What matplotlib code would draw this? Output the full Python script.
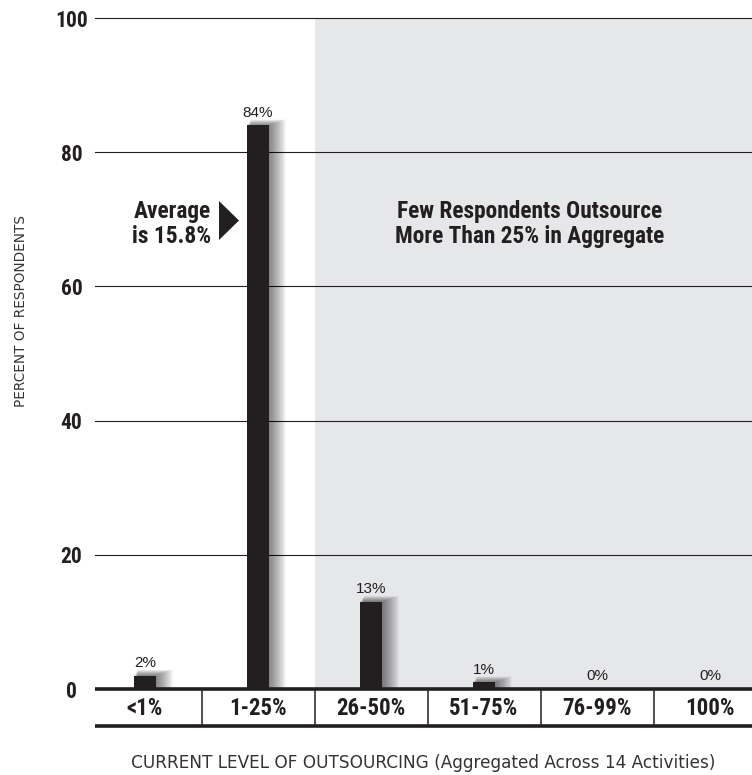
import matplotlib
matplotlib.use("Agg")
import matplotlib.pyplot as plt
from matplotlib.patches import Rectangle, Polygon
from matplotlib import font_manager

# ---- data ----
categories = ["<1%", "1-25%", "26-50%", "51-75%", "76-99%", "100%"]
percent_respondents = [2, 84, 13, 1, 0, 0]
y_ticks = [0, 20, 40, 60, 80, 100]

# ---- fonts ----
available = {f.name for f in font_manager.fontManager.ttflist}


def pick(*names):
    for n in names:
        if n in available:
            return n
    return "DejaVu Sans"


narrow = pick("Roboto Condensed", "Archivo Narrow", "Liberation Sans Narrow",
              "Sofia Sans Condensed")
regular = pick("Liberation Sans", "Arimo")

INK = "#231f20"
SHADE = "#e6e7e9"

W, H, DPI = 752, 775, 100
fig = plt.figure(figsize=(W / DPI, H / DPI), dpi=DPI)

# axes placement in pixels
left_px, right_px = 95, 752
top_px, zero_px, bottom_px = 18, 689, 727
px_per_unit = (zero_px - top_px) / 100.0
ymin = -(bottom_px - zero_px) / px_per_unit
ax = fig.add_axes([left_px / W, (H - bottom_px) / H,
                   (right_px - left_px) / W, (bottom_px - top_px) / H])

x_px_per_cat = 113.0
first_center_px = 145.0
xmin = -(first_center_px - left_px) / x_px_per_cat
xmax = xmin + (right_px - left_px) / x_px_per_cat
ax.set_xlim(xmin, xmax)
ax.set_ylim(ymin, 100)
for s in ax.spines.values():
    s.set_visible(False)
ax.set_xticks([])
ax.set_yticks(y_ticks)
ax.set_yticklabels([str(t) for t in y_ticks], family=narrow, fontweight="bold",
                   fontsize=15.5, color=INK, ha="center")
ax.tick_params(axis="y", length=0, pad=17)

# shaded region for categories above 25%
ax.add_patch(Rectangle((1.5, 0), xmax - 1.5, 100, facecolor=SHADE,
                       edgecolor="none", zorder=0))

# horizontal grid lines
for t in y_ticks[1:]:
    ax.plot([xmin, xmax], [t, t], color=INK, lw=0.8, zorder=1, clip_on=False)

# bars with a soft drop shadow to the right
bar_w = 22 / x_px_per_cat
xs = list(range(len(categories)))
for x, v in zip(xs, percent_respondents):
    if v <= 0:
        continue
    for k in range(1, 25):
        dx = k * 0.55 / x_px_per_cat
        dy = k * 0.25 / px_per_unit
        ax.add_patch(Rectangle((x - bar_w / 2 + dx * 0.3, 0), bar_w + dx, v + dy,
                               facecolor="black", edgecolor="none",
                               alpha=0.022, zorder=2))
ax.bar(xs, percent_respondents, width=bar_w, color=INK, zorder=3)

# value labels
for x, v in zip(xs, percent_respondents):
    ax.text(x, v + 1.3, f"{v}%", ha="center", va="baseline",
            family=regular, fontsize=11, color=INK, zorder=5)

# category band below the zero line
ax.add_patch(Rectangle((xmin, ymin), xmax - xmin, -ymin, facecolor="white",
                       edgecolor="none", zorder=1, clip_on=False))
ax.plot([xmin, xmax], [0, 0], color=INK, lw=2.6, zorder=6, solid_capstyle="butt",
        clip_on=False)
ax.plot([xmin, xmax], [ymin + 0.2, ymin + 0.2], color=INK, lw=2.6, zorder=6,
        solid_capstyle="butt", clip_on=False)
for i in range(len(categories) - 1):
    ax.plot([i + 0.5, i + 0.5], [ymin, 0], color=INK, lw=1.1, zorder=5)
for x, c in zip(xs, categories):
    ax.text(x, ymin / 2 - 0.1, c, ha="center", va="center", family=narrow,
            fontweight="bold", fontsize=16.5, color=INK, zorder=6)

# annotations
ax.text(1.5 + (xmax - 1.5) / 2 - 0.03, 69.3,
        "Few Respondents Outsource\nMore Than 25% in Aggregate",
        ha="center", va="center", family=narrow, fontweight="bold",
        fontsize=16.8, color=INK, linespacing=1.12, zorder=5)
ax.text((211 - first_center_px) / x_px_per_cat, 69.3, "Average\nis 15.8%",
        ha="right", va="center", family=narrow, fontweight="bold",
        fontsize=16.8, color=INK, linespacing=1.12, zorder=5)
tri_x0 = (219 - first_center_px) / x_px_per_cat
tri_x1 = (239 - first_center_px) / x_px_per_cat
ax.add_patch(Polygon([[tri_x0, (zero_px - 201) / px_per_unit],
                      [tri_x0, (zero_px - 240) / px_per_unit],
                      [tri_x1, (zero_px - 220.5) / px_per_unit]],
                     closed=True, facecolor=INK, edgecolor="none", zorder=5))

# axis titles
fig.text(21 / W, 1 - 311 / H, "PERCENT OF RESPONDENTS", rotation=90,
         ha="center", va="center", family="DejaVu Sans", fontsize=9.8,
         color="#333333")
fig.text(423 / W, 1 - 763 / H,
         "CURRENT LEVEL OF OUTSOURCING (Aggregated Across 14 Activities)",
         ha="center", va="center", family="DejaVu Sans", fontsize=12.2,
         color="#333333")

fig.savefig("out.png", dpi=DPI)
